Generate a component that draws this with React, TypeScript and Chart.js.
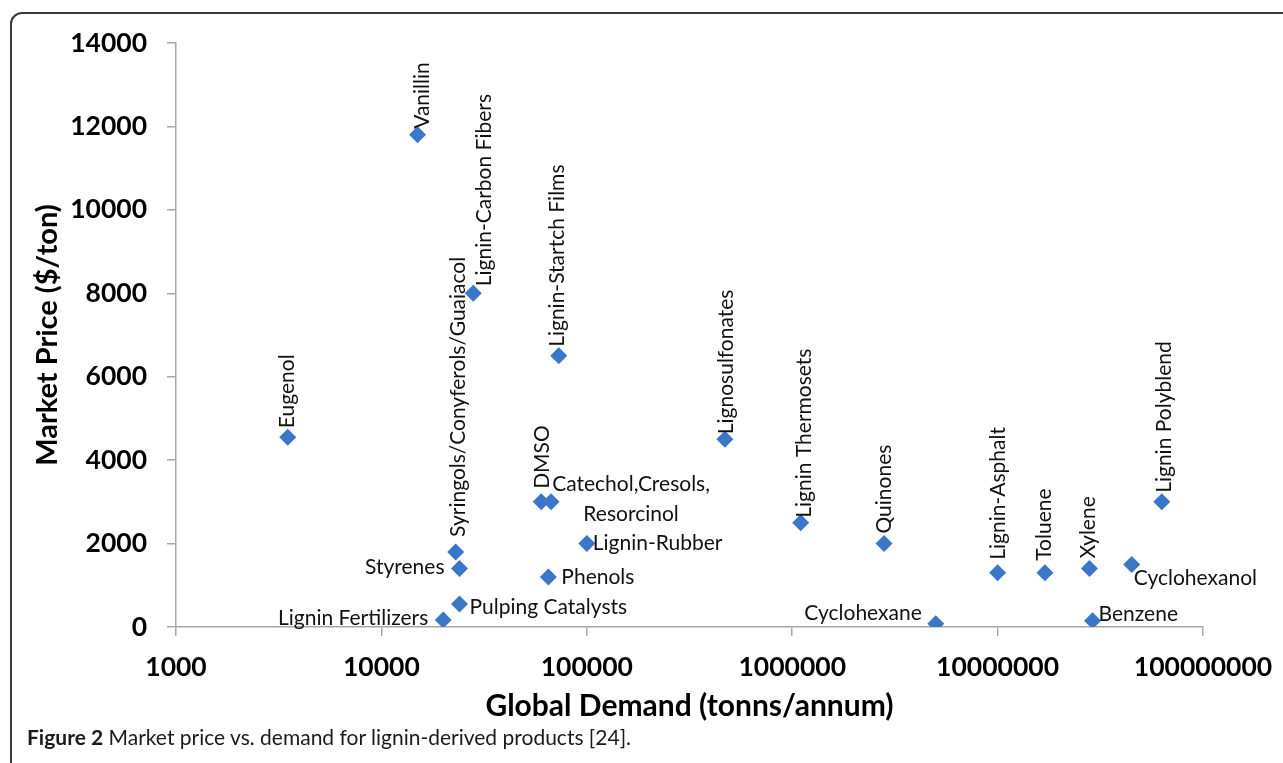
import React, { useEffect, useRef } from "react";
import { Chart, registerables } from "chart.js";

Chart.register(...registerables);

// ---- data ----
const PRODUCTS: string[] = [
  "Vanillin",
  "Lignin-Carbon Fibers",
  "Eugenol",
  "Syringols/Conyferols/Guaiacol",
  "Styrenes",
  "Pulping Catalysts",
  "Lignin Fertilizers",
  "Lignin-Startch Films",
  "DMSO",
  "Catechol,Cresols,\nResorcinol",
  "Lignin-Rubber",
  "Phenols",
  "Lignosulfonates",
  "Lignin Thermosets",
  "Quinones",
  "Cyclohexane",
  "Lignin-Asphalt",
  "Toluene",
  "Xylene",
  "Benzene",
  "Cyclohexanol",
  "Lignin Polyblend",
];

const DEMAND: number[] = [
  15000, 28000, 3500, 23000, 24000, 24000, 20000, 73000, 60000, 67000, 100000,
  65000, 470000, 1100000, 2800000, 5000000, 10000000, 17000000, 28000000,
  29000000, 45000000, 63000000,
];

const PRICE: number[] = [
  11800, 8000, 4550, 1800, 1400, 550, 170, 6500, 3000, 3000, 2000, 1200, 4500,
  2500, 2000, 80, 1300, 1300, 1400, 150, 1500, 3000,
];

const X_TICKS: number[] = [1000, 10000, 100000, 1000000, 10000000, 100000000];
const Y_TICKS: number[] = [0, 2000, 4000, 6000, 8000, 10000, 12000, 14000];

const X_TITLE = "Global Demand (tonns/annum)";
const Y_TITLE = "Market Price ($/ton)";
const CAPTION_BOLD = "Figure 2";
const CAPTION_TEXT = " Market price vs. demand for lignin-derived products [24].";

// ---- label placement (style, kept apart from the data) ----
type Placement = { kind: "up" | "left" | "right" | "block"; dx: number; dy: number };
const LABEL_PLACEMENT: Placement[] = [
  { kind: "up", dx: 5, dy: -6 },
  { kind: "up", dx: 11, dy: -7 },
  { kind: "up", dx: -1, dy: -9 },
  { kind: "up", dx: 3, dy: -15 },
  { kind: "left", dx: -15, dy: -1 },
  { kind: "right", dx: 10, dy: 3 },
  { kind: "left", dx: -15, dy: -2 },
  { kind: "up", dx: -1, dy: -9 },
  { kind: "up", dx: 1, dy: -13 },
  { kind: "block", dx: 80, dy: -18 },
  { kind: "right", dx: 6, dy: 0 },
  { kind: "right", dx: 13, dy: 0 },
  { kind: "up", dx: 1, dy: -5 },
  { kind: "up", dx: 4, dy: -5 },
  { kind: "up", dx: 0, dy: -10 },
  { kind: "left", dx: -14, dy: -10 },
  { kind: "up", dx: 1, dy: -13 },
  { kind: "up", dx: -1, dy: -12 },
  { kind: "up", dx: -1, dy: -10 },
  { kind: "right", dx: 6, dy: -7 },
  { kind: "right", dx: 2, dy: 14 },
  { kind: "up", dx: 2, dy: -9 },
];

const MARKER = "#3B77C8";
const AXIS_GRAY = "#a8a8a8";
const FONT = "Lato, 'Open Sans', sans-serif";

const pointLabels = {
  id: "pointLabels",
  afterDatasetsDraw(chart: any) {
    const meta = chart.getDatasetMeta(0);
    const ctx: CanvasRenderingContext2D = chart.ctx;
    ctx.save();
    ctx.fillStyle = "#111";
    ctx.font = `21px ${FONT}`;
    meta.data.forEach((el: any, i: number) => {
      const p = LABEL_PLACEMENT[i];
      const text = PRODUCTS[i];
      const x = el.x + p.dx;
      const y = el.y + p.dy;
      if (p.kind === "up") {
        ctx.save();
        ctx.translate(x, y);
        ctx.rotate(-Math.PI / 2);
        ctx.textAlign = "left";
        ctx.textBaseline = "middle";
        ctx.fillText(text, 0, 0);
        ctx.restore();
      } else if (p.kind === "left") {
        ctx.textAlign = "right";
        ctx.textBaseline = "middle";
        ctx.fillText(text, x, y);
      } else if (p.kind === "right") {
        ctx.textAlign = "left";
        ctx.textBaseline = "middle";
        ctx.fillText(text, x, y);
      } else {
        ctx.textAlign = "center";
        ctx.textBaseline = "middle";
        text.split("\n").forEach((line, k) => ctx.fillText(line, x, y + k * 30));
      }
    });
    ctx.restore();
  },
};

export default function App() {
  const ref = useRef<HTMLCanvasElement | null>(null);

  useEffect(() => {
    if (!ref.current) return;
    const points = DEMAND.map((d, i) => ({ x: d, y: PRICE[i] }));
    const chart = new Chart(ref.current, {
      type: "scatter",
      data: {
        datasets: [
          {
            data: points,
            pointStyle: "rectRot",
            pointRadius: 8.5,
            pointHoverRadius: 8.5,
            backgroundColor: MARKER,
            borderColor: MARKER,
            borderWidth: 0,
          },
        ],
      },
      options: {
        animation: false,
        responsive: false,
        events: [],
        layout: { padding: { left: 0, top: 43, right: 80, bottom: 38 } },
        plugins: { legend: { display: false }, tooltip: { enabled: false } },
        scales: {
          x: {
            type: "logarithmic",
            position: "bottom",
            min: 1000,
            max: 100000000,
            afterBuildTicks: (s: any) => {
              s.ticks = X_TICKS.map((v) => ({ value: v }));
            },
            afterFit: (s: any) => {
              s.height = 98;
              s.paddingLeft = 0;
              s.paddingRight = 0;
            },
            ticks: {
              callback: (v: any) => String(v),
              font: { family: FONT, size: 26.5, weight: "bold" },
              color: "#000",
              padding: 16,
              maxRotation: 0,
              autoSkip: false,
            },
            grid: {
              display: true,
              drawOnChartArea: false,
              drawTicks: true,
              tickLength: 9,
              color: AXIS_GRAY,
              lineWidth: 1.5,
            },
            border: { display: true, color: AXIS_GRAY, width: 1.5 },
            title: {
              display: true,
              text: X_TITLE,
              font: { family: FONT, size: 30, weight: "bold" },
              color: "#000",
              padding: { top: 0, bottom: 1 },
            },
          },
          y: {
            type: "linear",
            min: 0,
            max: 14000,
            afterBuildTicks: (s: any) => {
              s.ticks = Y_TICKS.map((v) => ({ value: v }));
            },
            afterFit: (s: any) => {
              s.width = 176;
            },
            ticks: {
              callback: (v: any) => String(v),
              font: { family: FONT, size: 26.5, weight: "bold" },
              color: "#000",
              padding: 20,
            },
            grid: {
              display: true,
              drawOnChartArea: false,
              drawTicks: true,
              tickLength: 9,
              color: AXIS_GRAY,
              lineWidth: 1.5,
            },
            border: { display: true, color: AXIS_GRAY, width: 1.5 },
            title: {
              display: true,
              text: Y_TITLE,
              font: { family: FONT, size: 29, weight: "bold" },
              color: "#000",
              padding: { top: 30, bottom: 0 },
            },
          },
        },
      },
      plugins: [pointLabels],
    } as any);
    return () => chart.destroy();
  }, []);

  return (
    <div
      style={{
        position: "fixed",
        left: 0,
        top: 0,
        width: 1283,
        height: 763,
        overflow: "hidden",
        background: "#fff",
      }}
    >
      <div
        style={{
          position: "absolute",
          left: 10,
          top: 12,
          width: 1320,
          height: 800,
          border: "2px solid #3a3a3a",
          borderRadius: 12,
          boxSizing: "border-box",
        }}
      />
      <canvas
        ref={ref}
        width={1283}
        height={763}
        style={{ position: "absolute", left: 0, top: 0, width: 1283, height: 763 }}
      />
      <div
        style={{
          position: "absolute",
          left: 27,
          top: 724,
          fontFamily: FONT,
          fontSize: 21,
          color: "#1a1a1a",
          whiteSpace: "nowrap",
        }}
      >
        <b>{CAPTION_BOLD}</b>
        {CAPTION_TEXT}
      </div>
    </div>
  );
}
